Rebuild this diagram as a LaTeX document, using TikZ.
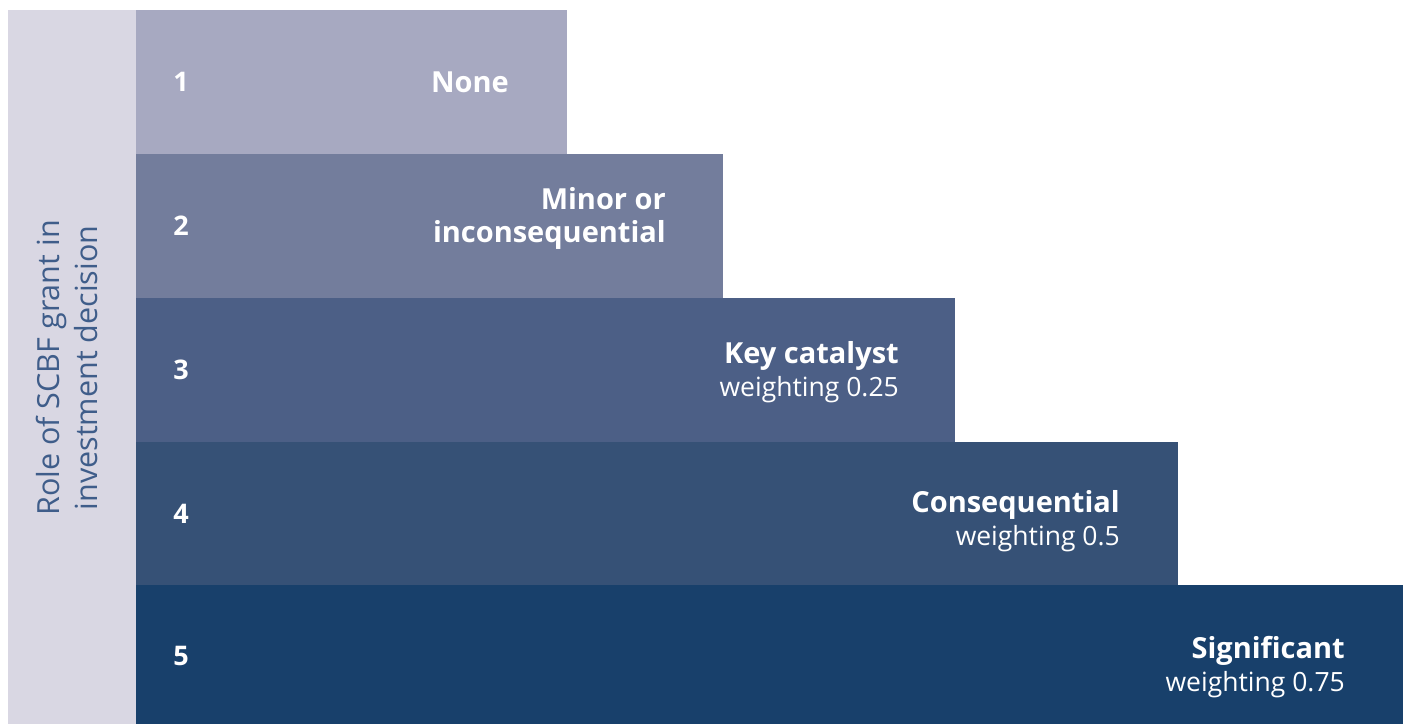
\documentclass[tikz,border=0pt]{standalone}
\usepackage{fontspec}
\setmainfont{Open Sans}
\usepackage{xcolor}
\definecolor{sidegray}{HTML}{D9D7E3}
\definecolor{sidetext}{HTML}{3F5D8A}
\definecolor{levelone}{HTML}{A7A9C1}
\definecolor{leveltwo}{HTML}{737D9C}
\definecolor{levelthree}{HTML}{4C5F86}
\definecolor{levelfour}{HTML}{365176}
\definecolor{levelfive}{HTML}{18406B}
\newcommand{\headtxt}[1]{{\fontsize{29}{33}\selectfont\bfseries #1}}
\tikzset{
  num/.style={text=white,font=\fontsize{27}{32}\selectfont\bfseries},
  lbl/.style={text=white,anchor=east,align=right,inner sep=0pt,font=\fontsize{26.5}{33}\selectfont},
}

\begin{document}
\begin{tikzpicture}[x=1pt,y=-1pt]
        \useasboundingbox (0,0) rectangle (1409,724);
        \fill[sidegray] (8,10) rectangle (136,724);
        \fill[levelone] (136,10) rectangle (567,154);
        \fill[leveltwo] (136,154) rectangle (723,298);
        \fill[levelthree] (136,298) rectangle (955,442);
        \fill[levelfour] (136,442) rectangle (1178,585);
        \fill[levelfive] (136,585) rectangle (1403,724);

        \node[rotate=90,align=center,text=sidetext,font=\fontsize{30.5}{38}\selectfont] (role) at (67,368) {Role of SCBF grant in\\investment decision};

        \node[num] (n1) at (181,82) {1};
        \node[num] (n2) at (181,226) {2};
        \node[num] (n3) at (181,370) {3};
        \node[num] (n4) at (181,514) {4};
        \node[num] (n5) at (181,656) {5};

        \node[lbl] (none) at (509,82) {\headtxt{None}};
        \node[lbl] (minor) at (666,218) {\headtxt{Minor or}\\\headtxt{inconsequential}};
        \node[lbl] (key) at (899,372) {\headtxt{Key catalyst}\\weighting 0.25};
        \node[lbl] (cons) at (1120,521) {\headtxt{Consequential}\\weighting 0.5};
        \node[lbl] (sig) at (1345,667) {\headtxt{Significant}\\weighting 0.75};
      \end{tikzpicture}
\end{document}
